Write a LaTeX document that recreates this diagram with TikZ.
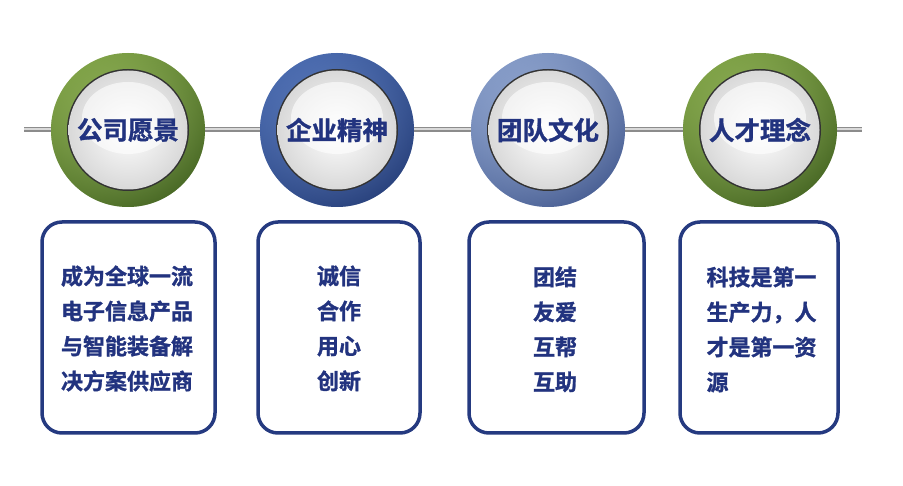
\documentclass[tikz,border=0pt]{standalone}
\usepackage{fontspec}
\newfontfamily\cjk{Noto Sans CJK SC}[BoldFont={Noto Sans CJK SC Bold},BoldFeatures={FakeBold=1.2}]
\definecolor{navy}{HTML}{22337F}
\definecolor{boxline}{HTML}{253A80}
\definecolor{gLight}{HTML}{9CC05A}
\definecolor{gDark}{HTML}{4A6A26}
\definecolor{bLight}{HTML}{5C80C8}
\definecolor{bDark}{HTML}{2A437E}
\definecolor{lbLight}{HTML}{A2B8E0}
\definecolor{lbDark}{HTML}{4C6296}
\tikzset{
  ringnode/.style={circle,minimum size=154pt,inner sep=0pt},
  titletext/.style={font=\cjk\bfseries\fontsize{25.5}{25.5}\selectfont,text=navy},
  infobox/.style={draw=boxline,line width=3.5pt,rounded corners=20pt,fill=white},
  bodytext/.style={font=\cjk\bfseries\fontsize{22}{35}\selectfont,text=navy,align=left},
}
\usetikzlibrary{calc}
\newcommand{\ringdraw}[3]{%
  \shade[shading=axis,top color=#2,bottom color=#3,shading angle=35] (#1) circle[radius=77pt];
  \shade[inner color=#2!70!white,outer color=#3,opacity=0.35] (#1) circle[radius=77pt];
  \fill[black!80] (#1) circle[radius=61pt];
  \shade[inner color=white,outer color=black!15] (#1) circle[radius=59.5pt];
  \fill[white,opacity=0.6] ($(#1)+(0,-12)$) ellipse[x radius=46pt,y radius=36pt];
}
\begin{document}
\begin{tikzpicture}[x=1pt,y=-1pt]
\useasboundingbox (0,0) rectangle (903,486);
\fill[white] (0,0) rectangle (903,486);
\coordinate (L) at (24,130);
\coordinate (R) at (862,130);
\draw[line width=5pt,black!45] (L) -- (R);
\draw[line width=1.5pt,black!15] ($(L)+(0,-1)$) -- ($(R)+(0,-1)$);
\coordinate (c1) at (128,130);
\coordinate (c2) at (337,130);
\coordinate (c3) at (548,130);
\coordinate (c4) at (760,130);
\ringdraw{c1}{gLight}{gDark}
\ringdraw{c2}{bLight}{bDark}
\ringdraw{c3}{lbLight}{lbDark}
\ringdraw{c4}{gLight}{gDark}
\node[ringnode,titletext] (t1) at (c1) {公司愿景};
\node[ringnode,titletext] (t2) at (c2) {企业精神};
\node[ringnode,titletext] (t3) at (c3) {团队文化};
\node[ringnode,titletext] (t4) at (c4) {人才理念};
\draw[infobox] (42,222) rectangle (215,433);
\draw[infobox] (258,222) rectangle (420,433);
\draw[infobox] (469,222) rectangle (644,433);
\draw[infobox] (680,222) rectangle (838,433);
\node[bodytext,anchor=north] (b1) at (127,262) {成为全球一流\\电子信息产品\\与智能装备解\\决方案供应商};
\node[bodytext,anchor=north] (b2) at (339,262) {诚信\\合作\\用心\\创新};
\node[bodytext,anchor=north] (b3) at (555,263) {团结\\友爱\\互帮\\互助};
\node[bodytext,anchor=north west] (b4) at (703,263) {科技是第一\\生产力，人\\才是第一资\\源};
\end{tikzpicture}
\end{document}
